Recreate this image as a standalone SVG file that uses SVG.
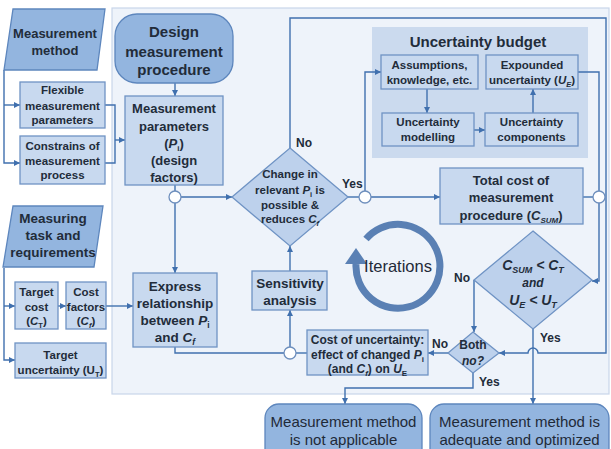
<svg xmlns="http://www.w3.org/2000/svg" width="611" height="449" viewBox="0 0 611 449">
  <style>
    .t{font-family:"Liberation Sans",Arial,sans-serif;font-weight:bold;fill:#222c3a;text-anchor:middle}
    .n{font-family:"Liberation Sans",Arial,sans-serif;fill:#1f2a38;text-anchor:middle}
    .lb{font-family:"Liberation Sans",Arial,sans-serif;font-weight:bold;fill:#222c3a;font-size:12px}
    .box{fill:#c8d9ef;stroke:#6f93c4;stroke-width:1.3}
    .dark{fill:#93b5df;stroke:#5d86bd;stroke-width:1.3}
    .dia{fill:#bdd1ec;stroke:#6f93c4;stroke-width:1.3}
    .con{fill:none;stroke:#4070ae;stroke-width:1.4}
    .arr{marker-end:url(#ah)}
    .jn{fill:#ffffff;stroke:#6e8fbd;stroke-width:1.3}
  </style>
  <defs>
    <marker id="ah" viewBox="0 0 10 10" refX="10" refY="5" markerWidth="6" markerHeight="6" markerUnits="userSpaceOnUse" orient="auto">
      <path d="M0,0 L10,5 L0,10 z" fill="#4070ae"/>
    </marker>
  </defs>

  <rect width="611" height="449" fill="#ffffff"/>
  <!-- procedure panel -->
  <rect x="112" y="8" width="497" height="386" fill="#eef3fa" stroke="#c9d6e9" stroke-width="1.2"/>
  <!-- uncertainty budget panel -->
  <g id="budget">
    <rect x="372" y="27" width="216" height="131" fill="#cbdaee"/>
    <text class="t" x="478" y="47" font-size="15">Uncertainty budget</text>
  </g>

  <!-- connectors -->
  <g id="connectors">
    <path class="con arr" d="M4,70 V163 H20"/>
    <path class="con arr" d="M4,105 H20"/>
    <path class="con" d="M105,105 H115 V163 H105"/>
    <path class="con arr" d="M115,140 H125"/>
    <path class="con arr" d="M175,83 V96"/>
    <path class="con" d="M175,185 V191"/>
    <path class="con arr" d="M181,197 H232"/>
    <path class="con arr" d="M175,203 V273"/>
    <path class="con arr" d="M290,148 V18 H606 V353 H538 A5,5 0 0 0 528,353 H499"/>
    <path class="con" d="M348,197 H359"/>
    <path class="con arr" d="M371,197 H440"/>
    <path class="con arr" d="M365,191 V72 H381"/>
    <path class="con arr" d="M427,89 V113"/>
    <path class="con arr" d="M474,130 H485"/>
    <path class="con arr" d="M533,113 V89"/>
    <path class="con" d="M578,72 H599 V191"/>
    <path class="con" d="M583,197 H593"/>
    <path class="con arr" d="M599,203 V281 H592"/>
    <path class="con arr" d="M474,280 V332"/>
    <path class="con arr" d="M533,329 V404"/>
    <path class="con arr" d="M448,353 H428"/>
    <path class="con arr" d="M473,373 V388 H345 V404"/>
    <path class="con" d="M307,353 H296"/>
    <path class="con" d="M284,353 H175 V347"/>
    <path class="con arr" d="M290,347 V310"/>
    <path class="con arr" d="M290,271 V246"/>
    <path class="con arr" d="M4,268 V360 H15"/>
    <path class="con arr" d="M4,306 H15"/>
    <path class="con arr" d="M58,306 H66"/>
    <path class="con arr" d="M106,306 H133"/>
    <circle class="jn" cx="175" cy="197" r="6"/>
    <circle class="jn" cx="365" cy="197" r="6"/>
    <circle class="jn" cx="599" cy="197" r="6"/>
    <circle class="jn" cx="290" cy="353" r="6"/>
    <text class="lb" x="296" y="147">No</text>
    <text class="lb" x="342" y="188">Yes</text>
    <text class="lb" x="454" y="282">No</text>
    <text class="lb" x="540" y="342">Yes</text>
    <text class="lb" x="432" y="348">No</text>
    <text class="lb" x="479" y="386">Yes</text>
  </g>

  <!-- iteration loop symbol -->
  <g id="iterations">
    <path d="M366,239 A42,42 0 1 1 356,264" fill="none" stroke="#5a80b4" stroke-width="7"/>
    <polygon points="356,248 345,264 367,264" fill="#5a80b4"/>
    <text class="n" x="398" y="272" font-size="16.5" fill="#2b3a52">Iterations</text>
  </g>

  <g id="measurement-method">
    <polygon class="dark" points="13,9 105,9 97,70 4,70"/>
    <text class="t" x="55" y="38" font-size="13">Measurement</text>
    <text class="t" x="55" y="55" font-size="13">method</text>
  </g>
  <g id="flexible-parameters">
    <rect class="box" x="20" y="82" width="85" height="46"/>
    <text class="t" x="62.5" y="94" font-size="11.5">Flexible</text>
    <text class="t" x="62.5" y="110" font-size="11.5">measurement</text>
    <text class="t" x="62.5" y="124" font-size="11.5">parameters</text>
  </g>
  <g id="constraints">
    <rect class="box" x="20" y="136" width="85" height="48"/>
    <text class="t" x="62.5" y="150" font-size="11.5">Constrains of</text>
    <text class="t" x="62.5" y="165" font-size="11.5">measurement</text>
    <text class="t" x="62.5" y="179" font-size="11.5">process</text>
  </g>
  <g id="measuring-task">
    <polygon class="dark" points="13,206 103,206 94,267 3,267"/>
    <text class="t" x="53" y="223" font-size="13.5">Measuring</text>
    <text class="t" x="53" y="240" font-size="13.5">task and</text>
    <text class="t" x="53" y="257" font-size="13.5">requirements</text>
  </g>
  <g id="target-cost">
    <rect class="box" x="15" y="282" width="43" height="47"/>
    <text class="t" x="36.5" y="296" font-size="11.5">Target</text>
    <text class="t" x="36.5" y="311" font-size="11.5">cost</text>
    <text class="t" x="36.5" y="325" font-size="11.5">(<tspan font-style="italic">C</tspan><tspan font-size="7.5" dy="3">T</tspan><tspan dy="-3">)</tspan></text>
  </g>
  <g id="cost-factors">
    <rect class="box" x="66" y="282" width="40" height="47"/>
    <text class="t" x="86" y="296" font-size="11.5">Cost</text>
    <text class="t" x="86" y="311" font-size="11.5">factors</text>
    <text class="t" x="86" y="325" font-size="11.5">(<tspan font-style="italic">C</tspan><tspan font-size="7.5" dy="3" font-style="italic">f</tspan><tspan dy="-3">)</tspan></text>
  </g>
  <g id="target-uncertainty">
    <rect class="box" x="15" y="343" width="91" height="35"/>
    <text class="t" x="60.5" y="359" font-size="11.5">Target</text>
    <text class="t" x="60.5" y="374" font-size="11.5">uncertainty (U<tspan font-size="7.5" dy="3">T</tspan><tspan dy="-3">)</tspan></text>
  </g>

  <g id="design-procedure">
    <rect class="dark" x="115" y="14" width="118" height="69" rx="22"/>
    <text class="t" x="174" y="37" font-size="15">Design</text>
    <text class="t" x="174" y="57" font-size="15">measurement</text>
    <text class="t" x="174" y="75" font-size="15">procedure</text>
  </g>
  <g id="measurement-parameters">
    <rect class="box" x="125" y="96" width="98" height="89"/>
    <text class="t" x="174" y="113" font-size="13">Measurement</text>
    <text class="t" x="174" y="131" font-size="13">parameters</text>
    <text class="t" x="174" y="148" font-size="13">(<tspan font-style="italic">P</tspan><tspan font-size="8" dy="3">i</tspan><tspan dy="-3">)</tspan></text>
    <text class="t" x="174" y="165" font-size="13">(design</text>
    <text class="t" x="174" y="182" font-size="13">factors)</text>
  </g>
  <g id="express-relationship">
    <rect class="box" x="133" y="273" width="84" height="74"/>
    <text class="t" x="175" y="291" font-size="13.5">Express</text>
    <text class="t" x="175" y="308" font-size="13.5">relationship</text>
    <text class="t" x="175" y="325" font-size="13.5">between <tspan font-style="italic">P</tspan><tspan font-size="8.5" dy="3">i</tspan></text>
    <text class="t" x="175" y="342" font-size="13.5">and <tspan font-style="italic">C</tspan><tspan font-size="8.5" dy="3" font-style="italic">f</tspan></text>
  </g>
  <g id="sensitivity-analysis">
    <rect class="box" x="252" y="271" width="75" height="39"/>
    <text class="t" x="290" y="288" font-size="13.5">Sensitivity</text>
    <text class="t" x="290" y="305" font-size="13.5">analysis</text>
  </g>
  <g id="change-decision">
    <polygon class="dia" points="290,148 348,197 290,246 232,197"/>
    <text class="t" x="290" y="178" font-size="11.5">Change in</text>
    <text class="t" x="290" y="194" font-size="11.5">relevant <tspan font-style="italic">P</tspan><tspan font-size="7.5" dy="3">i</tspan><tspan dy="-3"> is</tspan></text>
    <text class="t" x="290" y="209" font-size="11.5">possible &amp;</text>
    <text class="t" x="290" y="223" font-size="11.5">reduces <tspan font-style="italic">C</tspan><tspan font-size="7.5" dy="3" font-style="italic">f</tspan></text>
  </g>

  <g id="assumptions">
    <rect class="box" x="381" y="55" width="97" height="34"/>
    <text class="t" x="429.5" y="69" font-size="11.5">Assumptions,</text>
    <text class="t" x="429.5" y="84" font-size="11.5">knowledge, etc.</text>
  </g>
  <g id="expounded-uncertainty">
    <rect class="box" x="486" y="55" width="92" height="34"/>
    <text class="t" x="532" y="69" font-size="11.5">Expounded</text>
    <text class="t" x="532" y="84" font-size="11.5">uncertainty (<tspan font-style="italic">U</tspan><tspan font-size="7.5" dy="3" font-style="italic">E</tspan><tspan dy="-3">)</tspan></text>
  </g>
  <g id="uncertainty-modelling">
    <rect class="box" x="382" y="113" width="92" height="33"/>
    <text class="t" x="428" y="126" font-size="11.5">Uncertainty</text>
    <text class="t" x="428" y="141" font-size="11.5">modelling</text>
  </g>
  <g id="uncertainty-components">
    <rect class="box" x="485" y="113" width="93" height="33"/>
    <text class="t" x="531.5" y="126" font-size="11.5">Uncertainty</text>
    <text class="t" x="531.5" y="141" font-size="11.5">components</text>
  </g>

  <g id="total-cost">
    <rect class="box" x="440" y="168" width="143" height="56"/>
    <text class="t" x="511" y="185" font-size="13">Total cost of</text>
    <text class="t" x="511" y="202" font-size="13">measurement</text>
    <text class="t" x="511" y="220" font-size="13">procedure (<tspan font-style="italic">C</tspan><tspan font-size="8" dy="3" font-style="italic">SUM</tspan><tspan dy="-3">)</tspan></text>
  </g>
  <g id="target-check">
    <polygon class="dia" points="533,231 592,280 533,329 474,280"/>
    <text class="t" x="533" y="270" font-size="14" font-style="italic">C<tspan font-size="9" dy="3">SUM</tspan><tspan dy="-3"> &lt; C</tspan><tspan font-size="9" dy="3">T</tspan></text>
    <text class="t" x="533" y="287" font-size="12" font-style="italic">and</text>
    <text class="t" x="533" y="305" font-size="14" font-style="italic">U<tspan font-size="9" dy="3">E</tspan><tspan dy="-3"> &lt; U</tspan><tspan font-size="9" dy="3">T</tspan></text>
  </g>
  <g id="both-no">
    <polygon class="dia" points="473,332 499,353 473,373 448,353"/>
    <text class="t" x="473" y="349" font-size="12">Both</text>
    <text class="t" x="473" y="365" font-size="12" font-style="italic">no?</text>
  </g>
  <g id="cost-of-uncertainty">
    <rect class="box" x="307" y="330" width="121" height="45"/>
    <text class="t" x="367.5" y="344" font-size="12">Cost of uncertainty:</text>
    <text class="t" x="367.5" y="359" font-size="12">effect of changed <tspan font-style="italic">P</tspan><tspan font-size="8" dy="3">i</tspan></text>
    <text class="t" x="367.5" y="373" font-size="12">(and <tspan font-style="italic">C</tspan><tspan font-size="8" dy="3" font-style="italic">f</tspan><tspan dy="-3">) on </tspan><tspan font-style="italic">U</tspan><tspan font-size="8" dy="3">E</tspan></text>
  </g>

  <g id="not-applicable">
    <rect class="dark" x="265" y="404" width="157" height="62" rx="14"/>
    <text class="n" x="343.5" y="427" font-size="15">Measurement method</text>
    <text class="n" x="343.5" y="445" font-size="15">is not applicable</text>
  </g>
  <g id="adequate-optimized">
    <rect class="dark" x="430" y="404" width="179" height="62" rx="14"/>
    <text class="n" x="519.5" y="427" font-size="15">Measurement method is</text>
    <text class="n" x="519.5" y="445" font-size="15">adequate and optimized</text>
  </g>
</svg>
